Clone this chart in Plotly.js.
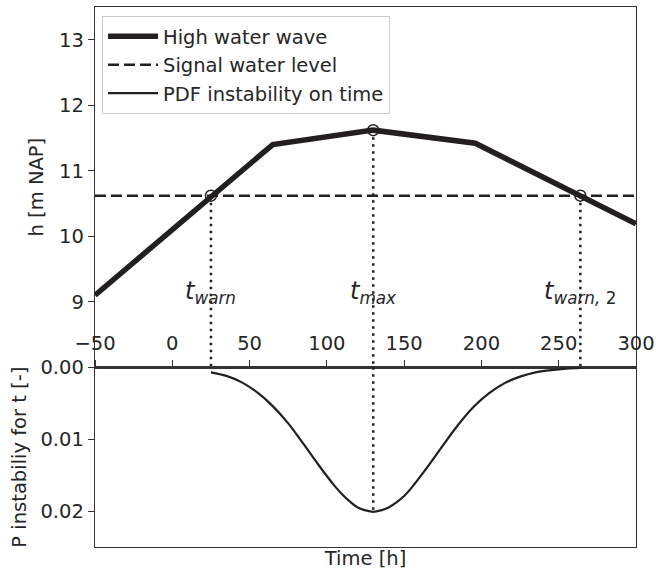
<!DOCTYPE html>
<html>
<head>
<meta charset="utf-8">
<script src="https://cdn.plot.ly/plotly-3.0.1.min.js"></script>
<style>html,body{margin:0;padding:0;background:#fff;}#chart{width:656px;height:576px;}</style>
</head>
<body>
<div id="chart"></div>
<script>
// High water wave (time in h, water level in m NAP)
const waveTime = [-50, 65, 130, 196, 300];
const waveLevel = [9.1, 11.4, 11.62, 11.42, 10.19];

// Signal water level
const signalTime = [-50, 300];
const signalLevel = [10.62, 10.62];

// Characteristic moments
const tWarn = 25;
const tMax = 130;
const tWarn2 = 264;
const markerTime = [tWarn, tMax, tWarn2];
const markerLevel = [10.62, 11.62, 10.62];
const labelText = ['<i>t</i><sub><i>warn</i></sub>', '<i>t</i><sub><i>max</i></sub>', '<i>t</i><sub><i>warn, </i>2</sub>'];

// PDF of instability over time
const pdfTime = [25, 35, 45, 55, 65, 75, 85, 95, 105, 110, 115, 120, 125, 130, 135, 140, 145, 150, 155, 165, 175, 185, 195, 205, 215, 225, 235, 245, 255, 264];
const pdfValue = [0.0007, 0.0012, 0.0021, 0.0035, 0.0054, 0.0078, 0.0107, 0.0137, 0.0165, 0.0177, 0.0187, 0.0195, 0.0199, 0.0201, 0.0199, 0.0195, 0.0188, 0.0179, 0.0167, 0.0139, 0.0109, 0.0080, 0.0055, 0.0036, 0.0022, 0.0013, 0.0007, 0.0004, 0.0002, 0.0001];
const pdfPeak = 0.0201;

// Axis ranges / ticks
const xRange = [-50, 300];
const hRange = [8, 13.5];
const hTicks = [9, 10, 11, 12, 13];
const pRange = [0.025, 0];
const pTicks = [0, 0.01, 0.02];
const pTickText = ['0.00', '0.01', '0.02'];

const ink = '#231f20';
const axisCol = '#333333';
const txt = '#262626';
const dotted = '2.5px,4.5px';
const fs = 19.5;

const traces = [
  {x: waveTime, y: waveLevel, xaxis: 'x', yaxis: 'y', mode: 'lines', name: 'High water wave',
   line: {color: ink, width: 5.5}, showlegend: true},
  {x: signalTime, y: signalLevel, xaxis: 'x', yaxis: 'y', mode: 'lines', name: 'Signal water level',
   line: {color: ink, width: 2.5, dash: '11px,5px'}, showlegend: true},
  {x: pdfTime, y: pdfValue, xaxis: 'x2', yaxis: 'y2', mode: 'lines', name: 'PDF instability on time',
   line: {color: ink, width: 2.2, shape: 'spline', smoothing: 1}, showlegend: true},
  // dotted verticals in upper panel
  {x: [tWarn, tWarn], y: [markerLevel[0], hRange[0]], xaxis: 'x', yaxis: 'y', mode: 'lines',
   line: {color: ink, width: 2.5, dash: dotted}, showlegend: false, hoverinfo: 'skip'},
  {x: [tMax, tMax], y: [markerLevel[1], hRange[0]], xaxis: 'x', yaxis: 'y', mode: 'lines',
   line: {color: ink, width: 2.5, dash: dotted}, showlegend: false, hoverinfo: 'skip'},
  {x: [tWarn2, tWarn2], y: [markerLevel[2], hRange[0]], xaxis: 'x', yaxis: 'y', mode: 'lines',
   line: {color: ink, width: 2.5, dash: dotted}, showlegend: false, hoverinfo: 'skip'},
  // dotted vertical in lower panel at t_max
  {x: [tMax, tMax], y: [0, pdfPeak], xaxis: 'x2', yaxis: 'y2', mode: 'lines',
   line: {color: ink, width: 2.5, dash: dotted}, showlegend: false, hoverinfo: 'skip'},
  // open circles
  {x: markerTime, y: markerLevel, xaxis: 'x', yaxis: 'y', mode: 'markers',
   marker: {symbol: 'circle-open', size: 11, color: ink, line: {width: 1.5, color: ink}},
   showlegend: false, hoverinfo: 'skip'},
  // dummy for bottom title axis
  {x: xRange, y: [0, 0], xaxis: 'x3', yaxis: 'y2', mode: 'lines', line: {width: 0},
   showlegend: false, hoverinfo: 'skip'}
];

const fontFam = 'DejaVu Sans, sans-serif';
const split = 0.3328;

const annotations = markerTime.map((t, i) => ({
  x: t, y: 9.14, xref: 'x', yref: 'y', text: labelText[i], showarrow: false,
  xanchor: 'center', yanchor: 'middle', font: {family: fontFam, size: 24, color: txt}
}));

const layout = {
  width: 656, height: 576,
  margin: {l: 95, r: 20, t: 7, b: 29},
  paper_bgcolor: '#fff', plot_bgcolor: 'rgba(0,0,0,0)',
  font: {family: fontFam, size: fs, color: txt},
  showlegend: true,
  legend: {x: 0.013, y: 0.983, xanchor: 'left', yanchor: 'top', bgcolor: '#fff',
           bordercolor: '#cccccc', borderwidth: 1, font: {family: fontFam, size: fs, color: txt},
           itemwidth: 50},
  xaxis: {domain: [0, 1], range: xRange, anchor: 'y', showticklabels: false, ticks: '',
          showgrid: false, zeroline: false, showline: true, mirror: true, linecolor: axisCol, linewidth: 1.3},
  yaxis: {domain: [split, 1], range: hRange, tickvals: hTicks, ticks: 'outside', ticklen: 6,
          tickcolor: axisCol, showgrid: false, zeroline: false, showline: true, mirror: true,
          linecolor: axisCol, linewidth: 1.3,
          title: {text: 'h [m NAP]', font: {size: fs, color: txt}, standoff: 10}},
  xaxis2: {domain: [0, 1], range: xRange, anchor: 'y2', side: 'top', dtick: 50, tick0: 0,
           ticks: 'outside', ticklen: 6, tickcolor: axisCol, showgrid: false, zeroline: false,
           showline: true, mirror: true, linecolor: axisCol, linewidth: 1.3, ticklabelstandoff: 2},
  xaxis3: {domain: [0, 1], range: xRange, anchor: 'y2', overlaying: 'x2', side: 'bottom',
           showticklabels: false, ticks: '', showgrid: false, zeroline: false, showline: false,
           title: {text: 'Time [h]', font: {size: fs, color: txt}, standoff: 4}},
  yaxis2: {domain: [0, split], range: pRange, tickvals: pTicks, ticktext: pTickText,
           ticks: 'outside', ticklen: 6, tickcolor: axisCol, showgrid: false, zeroline: false,
           showline: true, mirror: true, linecolor: axisCol, linewidth: 1.3,
           title: {text: 'P instabiliy for t [-]', font: {size: fs, color: txt}, standoff: 8}},
  annotations: annotations
};

Plotly.newPlot('chart', traces, layout, {staticPlot: true, displayModeBar: false});
</script>
</body>
</html>
